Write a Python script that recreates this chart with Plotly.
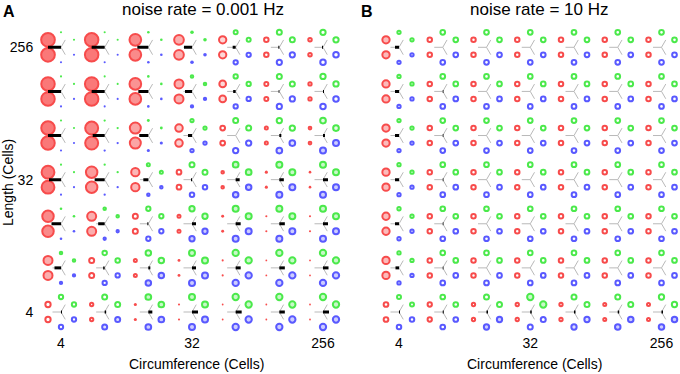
import math
import plotly.graph_objects as go

# ---------------- data ----------------
circumference = [4, 8, 16, 32, 64, 128, 256]
length = [256, 128, 64, 32, 16, 8, 4]          # rows, top to bottom
tick_vals = [4, 32, 256]
tick_text = ["4", "32", "256"]

# visual diameters (px) of the circles, and fill level (0 = hollow)
a_red_d = [
    [14.7, 14.5, 12.7, 10.7, 8.3, 5.5, 4.5],
    [14.5, 14.5, 12.7, 10.0, 7.7, 5.0, 4.3],
    [14.5, 14.0, 12.0, 8.5, 5.7, 4.0, 3.7],
    [13.8, 12.5, 9.3, 5.7, 3.5, 2.5, 2.0],
    [12.5, 10.0, 6.0, 4.0, 2.3, 1.5, 1.5],
    [10.0, 6.0, 4.0, 2.3, 1.5, 1.2, 1.2],
    [6.3, 4.3, 2.5, 1.5, 1.2, 1.2, 1.2]]
a_red_fill = [
    [0.75, 0.75, 0.65, 0.45, 0.22, 0, 0],
    [0.75, 0.75, 0.60, 0.45, 0.22, 0, 0],
    [0.75, 0.68, 0.50, 0.28, 0, 0, 0],
    [0.72, 0.55, 0.40, 0, 0, 0, 0],
    [0.65, 0.45, 0, 0, 0, 0, 0],
    [0.45, 0, 0, 0, 0, 0, 0],
    [0, 0, 0, 0, 0, 0, 0]]
a_green_d = [
    [1.5, 1.5, 2.0, 3.0, 5.0, 6.0, 6.3],
    [1.5, 1.5, 2.0, 3.5, 5.3, 6.0, 6.3],
    [1.5, 1.7, 2.3, 4.2, 6.0, 6.3, 6.7],
    [1.5, 1.7, 4.0, 6.0, 6.7, 7.0, 7.0],
    [2.0, 3.5, 5.3, 6.3, 7.0, 7.0, 7.0],
    [3.5, 5.5, 6.5, 7.0, 7.3, 7.3, 7.3],
    [5.3, 6.0, 6.7, 7.0, 7.3, 7.3, 7.3]]
a_green_fill = [
    [0, 0, 0, 0, 0, 0, 0],
    [0, 0, 0, 0, 0, 0, 0],
    [0, 0, 0, 0, 0, 0, 0.15],
    [0, 0, 0, 0, 0.3, 0.3, 0.3],
    [0, 0, 0, 0.2, 0.3, 0.3, 0.3],
    [0, 0, 0.15, 0.3, 0.3, 0.3, 0.3],
    [0, 0, 0.3, 0.3, 0.3, 0.3, 0.3]]
a_blue_d = [
    [1.5, 1.5, 2.0, 3.0, 5.3, 6.2, 6.5],
    [1.5, 1.5, 2.0, 3.3, 5.3, 6.2, 6.5],
    [1.5, 1.7, 2.5, 4.3, 6.3, 6.7, 7.0],
    [1.5, 1.7, 3.5, 5.5, 6.5, 7.0, 7.0],
    [2.0, 3.3, 5.3, 6.3, 7.0, 7.0, 7.0],
    [3.3, 5.3, 6.5, 7.0, 7.3, 7.3, 7.3],
    [5.3, 6.0, 6.7, 7.0, 7.3, 7.3, 7.3]]
a_blue_fill = [
    [0, 0, 0, 0, 0, 0, 0],
    [0, 0, 0, 0, 0, 0, 0],
    [0, 0, 0, 0, 0, 0.2, 0.3],
    [0, 0, 0, 0, 0.3, 0.3, 0.3],
    [0, 0, 0, 0.3, 0.3, 0.3, 0.3],
    [0, 0, 0.3, 0.3, 0.3, 0.3, 0.3],
    [0, 0.2, 0.3, 0.3, 0.3, 0.3, 0.3]]
# horizontal black bar from glyph centre (px, negative = towards red)
a_bar = [
    [-13, -13, -11, -8, -3, -1, -1],
    [-13, -13, -10, -7, -2.5, -0.7, 1],
    [-13, -12, -9, -4, 0, 2, 2],
    [-12, -10, -5, -1, 4, 4.5, 5],
    [-9.5, -6.5, -1, 4, 5, 5.5, 5],
    [-6.5, -1.5, 2, 4, 5, 5.5, 5.5],
    [1, 1.5, 4, 6, 6, 5.5, 6]]

b_red_d = [
    [8.3, 5.5, 5.5, 5.5, 5.5, 5.5, 5.5],
    [8.3, 5.5, 5.5, 5.5, 5.5, 5.5, 5.5],
    [8.3, 5.5, 5.5, 5.5, 5.5, 5.5, 5.5],
    [8.3, 5.5, 5.5, 5.5, 5.5, 5.5, 5.5],
    [8.3, 5.5, 5.5, 5.5, 5.5, 5.5, 5.5],
    [8.3, 5.5, 5.5, 5.5, 5.5, 5.5, 5.5],
    [5.7, 5.3, 4.3, 4.3, 4.3, 4.0, 4.0]]
b_red_fill = [
    [0.38, 0, 0, 0, 0, 0, 0],
    [0.38, 0, 0, 0, 0, 0, 0],
    [0.38, 0, 0, 0, 0, 0, 0],
    [0.38, 0, 0, 0, 0, 0, 0],
    [0.38, 0, 0, 0, 0, 0, 0],
    [0.38, 0, 0, 0, 0, 0, 0],
    [0, 0, 0, 0, 0, 0, 0]]
b_green_d = [
    [4.3, 5.7, 5.7, 5.7, 5.7, 5.7, 5.7],
    [4.3, 5.7, 5.7, 5.7, 5.7, 5.7, 5.7],
    [4.3, 5.7, 5.7, 5.7, 5.7, 5.7, 5.7],
    [4.3, 5.7, 5.7, 5.7, 5.7, 5.7, 5.7],
    [4.3, 5.7, 5.7, 5.7, 5.7, 5.7, 5.7],
    [4.3, 5.7, 5.7, 5.7, 5.7, 5.7, 5.7],
    [5.0, 5.7, 6.0, 7.3, 6.0, 6.0, 6.3]]
b_green_fill = [
    [0, 0, 0, 0, 0, 0, 0],
    [0, 0, 0, 0, 0, 0, 0],
    [0, 0, 0, 0, 0, 0, 0],
    [0, 0, 0, 0, 0, 0, 0],
    [0, 0, 0, 0, 0, 0, 0],
    [0, 0, 0, 0, 0, 0, 0],
    [0, 0, 0, 0.3, 0, 0, 0]]
b_blue_d = [
    [4.3, 5.7, 5.7, 5.7, 5.7, 5.7, 5.7],
    [4.3, 5.7, 5.7, 5.7, 5.7, 5.7, 5.7],
    [4.3, 5.7, 5.7, 5.7, 5.7, 5.7, 5.7],
    [4.3, 5.7, 5.7, 5.7, 5.7, 5.7, 5.7],
    [4.3, 5.7, 5.7, 5.7, 5.7, 5.7, 5.7],
    [4.3, 5.7, 5.7, 5.7, 5.7, 5.7, 5.7],
    [5.5, 5.7, 6.3, 6.0, 6.3, 6.5, 6.5]]
b_blue_fill = [
    [0, 0, 0, 0, 0, 0, 0],
    [0, 0, 0, 0, 0, 0, 0],
    [0, 0, 0, 0, 0, 0, 0],
    [0, 0, 0, 0, 0, 0, 0],
    [0, 0, 0, 0, 0, 0, 0],
    [0, 0, 0, 0, 0, 0, 0],
    [0, 0, 0.3, 0, 0.2, 0.3, 0.3]]
b_bar = [
    [-4, 0, 0, 0, 0, 0, 0],
    [-4, 0.7, 0, 0, 0, 0, 0],
    [-4, 0.7, 0, 0, 0, 0, 0],
    [-4, 0.7, 0, 0, 0, 0, 0],
    [-4, 0.7, 0, 0, 0, 0, 0],
    [-3.5, 0.7, 0, 0, 0, 0, 0],
    [1, 1, 1.5, 1.5, 1.5, 1.5, 1.5]]

# ---------------- layout geometry (px) ----------------
W, H = 680, 374
FONT = "Liberation Sans, Arial, Helvetica, sans-serif"
RED, GREEN, BLUE = (245, 0, 0), (0, 225, 0), (20, 20, 255)
GRAY = "rgb(185,185,185)"
RING = 2.0      # outline width of the circles
EDGE = 1.0      # extra px added to ring diameters (anti-aliased edge)
DOT_EDGE = 0.6  # extra px added to solid dot diameters

# plot area and pixel positions of the first/last tick
PANELS = {
    "A": dict(x0=39, x1=345, c_lo=61, c_hi=323),
    "B": dict(x0=377, x1=680, c_lo=399, c_hi=661.5),
}
Y0, Y1 = 25.3, 328          # top / bottom of plot area
L_HI, L_LO = 47.3, 312      # pixel rows for length 256 / 4

POS = {
    "red": [(-13.0, -7.5), (-13.0, 7.5)],
    "green": [(0.0, -15.0), (13.0, -7.5)],
    "blue": [(13.0, 7.5), (0.0, 15.0)],
}
ARM = 8.5
ARMS = [(-ARM, 0.0), (ARM * 0.5, -ARM * 0.866), (ARM * 0.5, ARM * 0.866)]

ppo_y = (L_LO - L_HI) / 6.0


def mix(rgb, f):
    return "rgb(%d,%d,%d)" % tuple(round(255 - (255 - c) * f) for c in rgb)


def log_range(lo_px, hi_px, v_lo_px, v_hi_px, ppo, v_lo, v_hi):
    l2 = math.log10(2)
    return [math.log10(v_lo) - (v_lo_px - lo_px) / ppo * l2,
            math.log10(v_hi) + (hi_px - v_hi_px) / ppo * l2]


fig = go.Figure()


def draw_panel(xa, ya, ppo_x, red_d, red_f, green_d, green_f, blue_d, blue_f, bar):
    def pt(c, l, dx, dy):
        return c * 2 ** (dx / ppo_x), l * 2 ** (-dy / ppo_y)

    # gray three-armed star
    gx, gy = [], []
    for l in length:
        for c in circumference:
            for dx, dy in ARMS:
                x0, y0 = pt(c, l, 0, 0)
                x1, y1 = pt(c, l, dx, dy)
                gx += [x0, x1, None]
                gy += [y0, y1, None]
    fig.add_trace(go.Scatter(x=gx, y=gy, mode="lines", xaxis=xa, yaxis=ya,
                             line=dict(color=GRAY, width=1), hoverinfo="skip",
                             showlegend=False))

    for name, rgb, dd, ff in (("red", RED, red_d, red_f),
                              ("green", GREEN, green_d, green_f),
                              ("blue", BLUE, blue_d, blue_f)):
        xs, ys, sz, cols, lws = [], [], [], [], []
        for i, l in enumerate(length):
            for j, c in enumerate(circumference):
                d, f = dd[i][j], ff[i][j]
                for dx, dy in POS[name]:
                    x, y = pt(c, l, dx, dy)
                    xs.append(x)
                    ys.append(y)
                    if d < 3.2:
                        sz.append(d + DOT_EDGE)
                        lws.append(0)
                        cols.append(mix(rgb, 1))
                    else:
                        sz.append(d + EDGE - RING)
                        lws.append(RING)
                        cols.append(mix(rgb, f))
        fig.add_trace(go.Scatter(
            x=xs, y=ys, mode="markers", xaxis=xa, yaxis=ya, cliponaxis=False,
            marker=dict(symbol="circle", size=sz, color=cols,
                        line=dict(color=mix(rgb, 1), width=lws)),
            hoverinfo="skip", showlegend=False, name=name))

    bx, by = [], []
    for i, l in enumerate(length):
        for j, c in enumerate(circumference):
            b = bar[i][j]
            if b == 0:
                continue
            x0, y0 = pt(c, l, 0, 0)
            x1, y1 = pt(c, l, b, 0)
            bx += [x0, x1, None]
            by += [y0, y1, None]
    fig.add_trace(go.Scatter(x=bx, y=by, mode="lines", xaxis=xa, yaxis=ya,
                             line=dict(color="black", width=3), hoverinfo="skip",
                             showlegend=False))


pa, pb = PANELS["A"], PANELS["B"]
ppo_a = (pa["c_hi"] - pa["c_lo"]) / 6.0
ppo_b = (pb["c_hi"] - pb["c_lo"]) / 6.0

draw_panel("x", "y", ppo_a, a_red_d, a_red_fill, a_green_d, a_green_fill,
           a_blue_d, a_blue_fill, a_bar)
draw_panel("x2", "y2", ppo_b, b_red_d, b_red_fill, b_green_d, b_green_fill,
           b_blue_d, b_blue_fill, b_bar)

yrange = [math.log10(4) - (Y1 - L_LO) / ppo_y * math.log10(2),
          math.log10(256) + (L_HI - Y0) / ppo_y * math.log10(2)]
ydom = [1 - Y1 / H, 1 - Y0 / H]

axis_common = dict(type="log", showgrid=False, zeroline=False, showline=False,
                   automargin=False,
                   ticks="outside", ticklen=2, tickcolor="rgba(0,0,0,0)",
                   tickvals=tick_vals, ticktext=tick_text,
                   tickfont=dict(family=FONT, size=14, color="black"))

fig.update_layout(
    width=W, height=H, margin=dict(l=0, r=0, t=0, b=0, autoexpand=False),
    paper_bgcolor="white", plot_bgcolor="white",
    font=dict(family=FONT, color="black"),
    xaxis=dict(domain=[pa["x0"] / W, pa["x1"] / W],
               range=log_range(pa["x0"], pa["x1"], pa["c_lo"], pa["c_hi"], ppo_a, 4, 256),
               anchor="y", **axis_common),
    yaxis=dict(domain=ydom, range=yrange, anchor="x", **axis_common),
    xaxis2=dict(domain=[pb["x0"] / W, pb["x1"] / W],
                range=log_range(pb["x0"], pb["x1"], pb["c_lo"], pb["c_hi"], ppo_b, 4, 256),
                anchor="y2", **axis_common),
    yaxis2=dict(domain=ydom, range=yrange, anchor="x2", showticklabels=False,
                **axis_common),
)


def ann(text, x, y, size, bold=False, angle=0):
    fig.add_annotation(text=("<b>%s</b>" % text) if bold else text,
                       x=x / W, y=1 - y / H, xref="paper", yref="paper",
                       showarrow=False, xanchor="center", yanchor="middle",
                       textangle=angle, font=dict(family=FONT, size=size, color="black"))


ann("A", 9, 11, 16, bold=True)
ann("B", 367, 11, 16, bold=True)
ann("noise rate = 0.001 Hz", 203, 10, 17)
ann("noise rate = 10 Hz", 539, 10, 17)
ann("Circumference (Cells)", 196.5, 364, 14)
ann("Circumference (Cells)", 534, 364, 14)
ann("Length (Cells)", 8, 183, 14, angle=-90)

fig.write_html("out.html", config={"displayModeBar": False},
               post_script="document.body.style.margin='0px';"
                           "document.body.style.overflow='hidden';")
